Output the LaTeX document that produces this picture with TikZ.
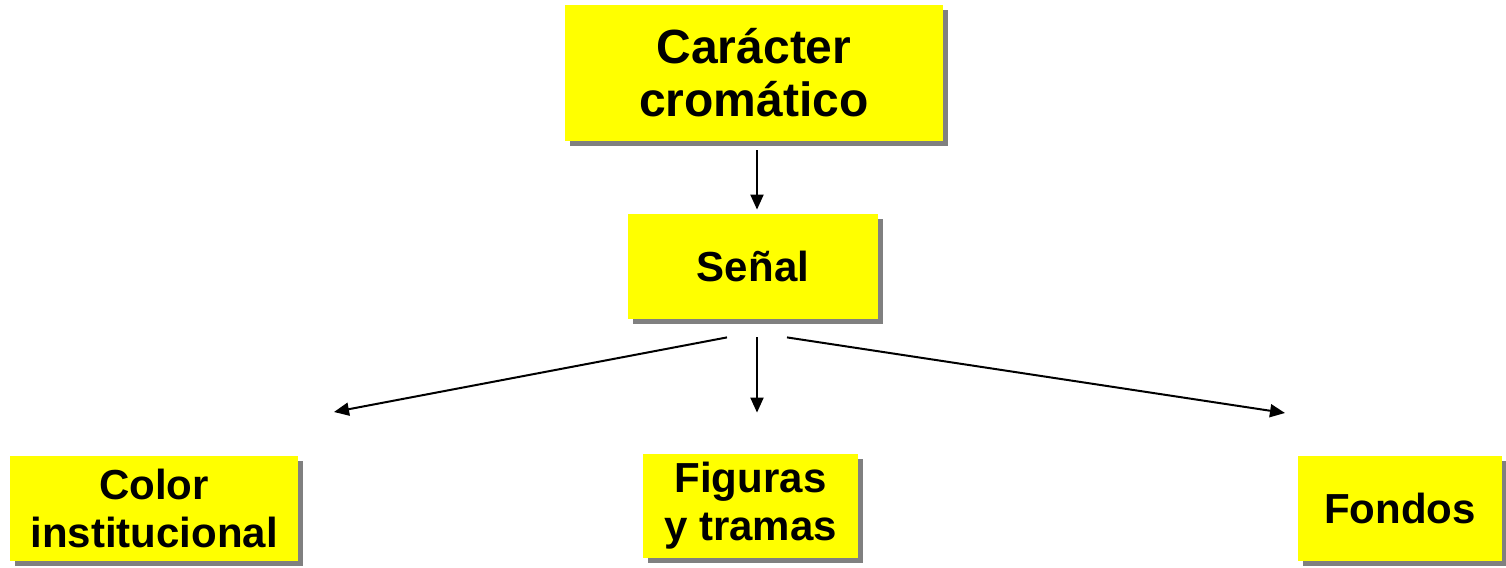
\documentclass[tikz,border=0pt]{standalone}
\usepackage{fontspec}
\setmainfont{Liberation Sans}
\usepackage{tikz}
\usetikzlibrary{arrows.meta}
\usetikzlibrary{shadows,positioning}
\definecolor{amarillo}{RGB}{255,255,0}

\begin{document}
\begin{tikzpicture}[x=0.5pt,y=-0.5pt,
		box/.style={draw=none,fill=amarillo,align=center,inner sep=0pt,font=\bfseries\fontsize{21}{24}\selectfont,
			drop shadow={shadow xshift=2.5pt,shadow yshift=-2.5pt,fill=black!50,opacity=1}},
		flecha/.style={line width=1pt,-{Triangle[length=7.5pt,width=6.5pt]}}]
		\useasboundingbox (0,0) rectangle (1506,568);
		\node[box,minimum width=189pt,minimum height=68pt,font=\bfseries\fontsize{24}{26.5}\selectfont] (caracter) at (754,73) {Carácter\\cromático};
		\node[box,minimum width=125pt,minimum height=52.5pt] (senal) at (753,266.5) {Señal};
		\node[box,minimum width=144pt,minimum height=52.5pt] (color) at (154,508.5) {Color\\institucional};
		\node[box,minimum width=107.5pt,minimum height=52pt] (figuras) at (750.5,506) {Figuras\\y tramas};
		\node[box,minimum width=102pt,minimum height=52.5pt] (fondos) at (1400,508.5) {Fondos};
		\coordinate (izq) at (334,412);
		\coordinate (der) at (1285,413);
		\draw[flecha,shorten <=4.5pt,shorten >=2pt] ([xshift=1.5pt]caracter.south) -- ([xshift=2pt]senal.north);
		\draw[flecha,shorten <=9pt,shorten >=20.5pt] ([xshift=2pt]senal.south) -- ([xshift=3.25pt]figuras.north);
		\draw[flecha] ([shift={(-26,18)}]senal.south) -- (izq);
		\draw[flecha] ([shift={(34,18)}]senal.south) -- (der);
	\end{tikzpicture}
\end{document}
